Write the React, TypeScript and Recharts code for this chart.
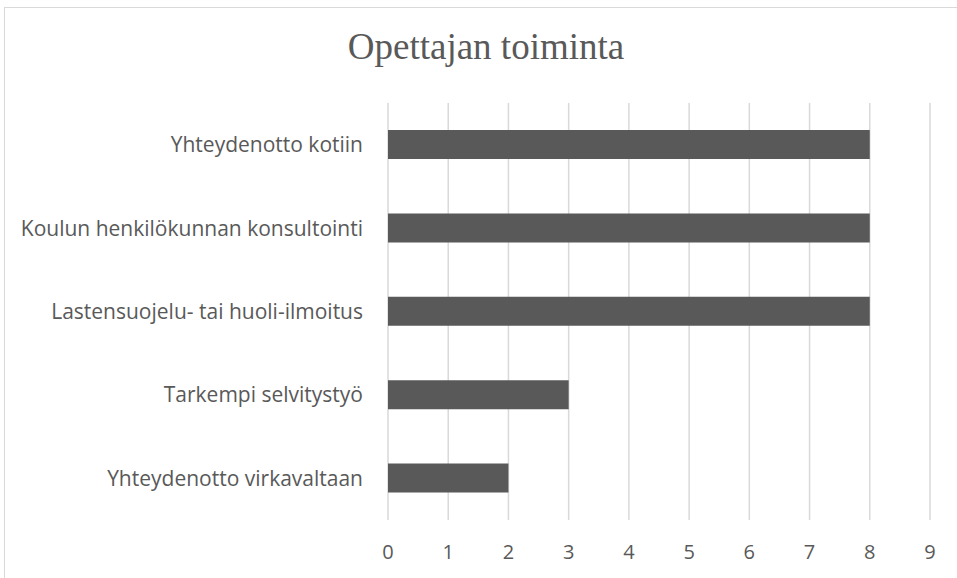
import React from "react";
import { BarChart, Bar, XAxis, YAxis, CartesianGrid } from "recharts";

const categories = [
  "Yhteydenotto kotiin",
  "Koulun henkilökunnan konsultointi",
  "Lastensuojelu- tai huoli-ilmoitus",
  "Tarkempi selvitystyö",
  "Yhteydenotto virkavaltaan",
];
const values = [8, 8, 8, 3, 2];
const xTicks = [0, 1, 2, 3, 4, 5, 6, 7, 8, 9];
const title = "Opettajan toiminta";

const data = categories.map((name, i) => ({ name, value: values[i] }));

const TEXT = "#595959";

export default function App() {
  return (
    <div style={{ position: "fixed", left: 0, top: 0, width: 957, height: 578, overflow: "hidden", background: "#fff" }}>
      <div
        style={{
          position: "absolute",
          left: 4,
          top: 7,
          width: 1000,
          height: 700,
          border: "1px solid #d9d9d9",
        }}
      />
      <div
        style={{
          position: "absolute",
          left: 0,
          top: 25,
          width: 972,
          textAlign: "center",
          fontFamily: "'Liberation Serif', serif",
          fontSize: 37,
          color: TEXT,
          lineHeight: "44px",
        }}
      >
        {title}
      </div>
      <div style={{ position: "absolute", left: 0, top: 0 }}>
        <BarChart
          width={957}
          height={578}
          data={data}
          layout="vertical"
          margin={{ top: 103, right: 27, bottom: 28, left: 0 }}
          barSize={29}
        >
          <CartesianGrid horizontal={false} stroke="#d9d9d9" strokeWidth={1.5} />
          <XAxis
            type="number"
            domain={[0, 9]}
            ticks={xTicks}
            axisLine={false}
            tickLine={false}
            tickSize={0}
            tickMargin={25}
            interval={0}
            tick={{ fill: TEXT, fontSize: 20, fontFamily: "'Open Sans', sans-serif" }}
          />
          <YAxis
            type="category"
            dataKey="name"
            width={388}
            axisLine={false}
            tickLine={false}
            tickSize={0}
            tickMargin={25}
            interval={0}
            tick={{ fill: TEXT, fontSize: 21, fontFamily: "'Open Sans', sans-serif" }}
          />
          <Bar dataKey="value" fill="#595959" isAnimationActive={false} />
        </BarChart>
      </div>
    </div>
  );
}
